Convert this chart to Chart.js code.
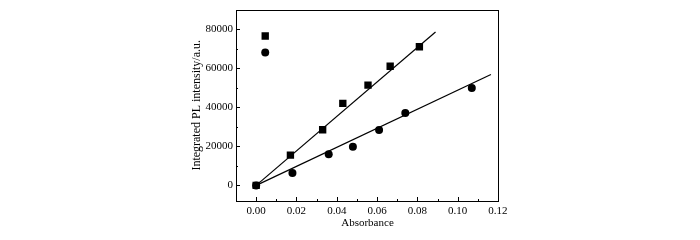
<!DOCTYPE html>
<html>
<head>
<meta charset="utf-8" />
<title>Integrated PL intensity vs absorbance</title>
<script src="https://cdn.jsdelivr.net/npm/chart.js@4.4.0/dist/chart.umd.min.js"></script>
<style>
  html, body { margin: 0; padding: 0; background: #fff; }
  #wrap { width: 700px; height: 240px; }
</style>
</head>
<body>
<div id="wrap"><canvas id="myChart" width="700" height="240"></canvas></div>

<script>
// data
var absSquare = [0.000, 0.017, 0.033, 0.043, 0.0555, 0.0665, 0.081];
var plSquare  = [0, 15500, 28500, 42000, 51300, 61000, 71000];
var absCircle = [0.000, 0.018, 0.036, 0.048, 0.061, 0.074, 0.107];
var plCircle  = [0, 6300, 16000, 19800, 28300, 37000, 49800];

// fitted lines (end points)
var fitSquareX = [-0.001, 0.089];
var fitSquareY = [-900, 78500];
var fitCircleX = [-0.001, 0.1165];
var fitCircleY = [-500, 56800];

// the two lone symbols (legend markers without text)
var keySquare = [0.0045, 76500];
var keyCircle = [0.0045, 68000];

var xTicks = [0, 0.02, 0.04, 0.06, 0.08, 0.10, 0.12];
var yTicks = [0, 20000, 40000, 60000, 80000];

function pts(xs, ys) {
  var out = [];
  for (var i = 0; i < xs.length; i++) out.push({x: xs[i], y: ys[i]});
  return out;
}

var font = {family: "'Liberation Serif', 'Times New Roman', serif", size: 11};
var titleFont = {family: "'Liberation Serif', 'Times New Roman', serif", size: 12};

// frame + inward ticks
var framePlugin = {
  id: 'frame',
  afterDraw: function (chart) {
    var ctx = chart.ctx, a = chart.chartArea;
    var xs = chart.scales.x, ys = chart.scales.y;
    ctx.save();
    ctx.strokeStyle = '#000';
    ctx.lineWidth = 1;
    ctx.strokeRect(Math.round(a.left) + 0.5, Math.round(a.top) + 0.5,
                   Math.round(a.right - a.left) - 1, Math.round(a.bottom - a.top));
    ctx.beginPath();
    for (var i = 0; i < xTicks.length; i++) {
      var px = Math.round(xs.getPixelForValue(xTicks[i])) + 0.5;
      ctx.moveTo(px, a.bottom); ctx.lineTo(px, a.bottom - 4);
      var mx = Math.round(xs.getPixelForValue(xTicks[i] - 0.01)) + 0.5;
      if (mx > a.left) { ctx.moveTo(mx, a.bottom); ctx.lineTo(mx, a.bottom - 2); }
    }
    for (var j = 0; j < yTicks.length; j++) {
      var py = Math.round(ys.getPixelForValue(yTicks[j])) + 0.5;
      ctx.moveTo(a.left, py); ctx.lineTo(a.left + 4, py);
      var my = Math.round(ys.getPixelForValue(yTicks[j] + 10000)) + 0.5;
      if (my > a.top) { ctx.moveTo(a.left, my); ctx.lineTo(a.left + 2, my); }
    }
    ctx.stroke();
    ctx.restore();
  }
};

var ctx = document.getElementById('myChart').getContext('2d');
var chart = new Chart(ctx, {
  type: 'scatter',
  data: {
    datasets: [
      {
        label: 'fit squares', type: 'line',
        data: pts(fitSquareX, fitSquareY),
        borderColor: '#000', borderWidth: 1.2, pointRadius: 0, fill: false
      },
      {
        label: 'fit circles', type: 'line',
        data: pts(fitCircleX, fitCircleY),
        borderColor: '#000', borderWidth: 1.2, pointRadius: 0, fill: false
      },
      {
        label: 'squares',
        data: pts(absSquare, plSquare).concat([{x: keySquare[0], y: keySquare[1]}]),
        pointStyle: 'rect', pointRadius: 5.2,
        backgroundColor: '#000', borderColor: '#000', borderWidth: 0
      },
      {
        label: 'circles',
        data: pts(absCircle, plCircle).concat([{x: keyCircle[0], y: keyCircle[1]}]),
        pointStyle: 'circle', pointRadius: 4,
        backgroundColor: '#000', borderColor: '#000', borderWidth: 0
      }
    ]
  },
  options: {
    responsive: false,
    animation: false,
    layout: {padding: {top: 9, right: 201, bottom: 6, left: 186}},
    plugins: {legend: {display: false}, tooltip: {enabled: false}},
    scales: {
      x: {
        type: 'linear', min: -0.01, max: 0.1205,
        grid: {display: false, drawTicks: false},
        border: {display: false},
        afterBuildTicks: function (s) { s.ticks = xTicks.map(function (v) { return {value: v}; }); },
        afterFit: function (s) { s.height = 33; },
        ticks: {color: '#000', font: font, padding: 4, maxRotation: 0,
                callback: function (v) { return v.toFixed(2); }},
        title: {display: true, text: 'Absorbance', color: '#000', font: font, padding: {top: 1}}
      },
      y: {
        type: 'linear', min: -8000, max: 90000,
        grid: {display: false, drawTicks: false},
        border: {display: false},
        afterBuildTicks: function (s) { s.ticks = yTicks.map(function (v) { return {value: v}; }); },
        afterFit: function (s) { s.width = 50; },
        ticks: {color: '#000', font: font, padding: 3,
                callback: function (v) { return String(v); }},
        title: {display: true, text: 'Integrated PL intensity/a.u.', color: '#000', font: titleFont, padding: {bottom: 2}}
      }
    }
  },
  plugins: [framePlugin]
});
</script>
</body>
</html>
